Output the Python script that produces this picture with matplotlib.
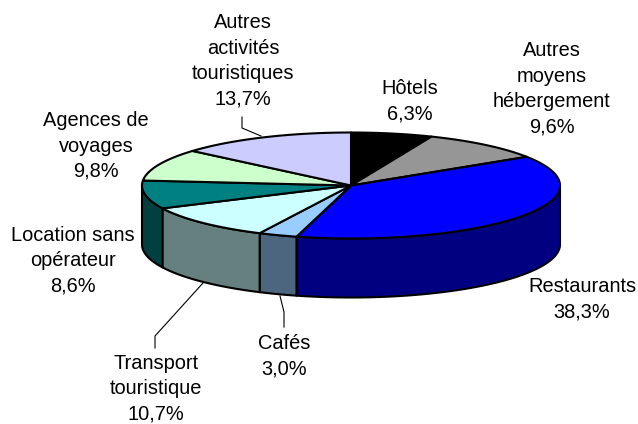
import numpy as np
import matplotlib
matplotlib.use("Agg")
import matplotlib.pyplot as plt
from matplotlib.patches import Polygon

plt.rcParams['font.family'] = ['Liberation Sans']

labels = ["Hôtels\n6,3%", "Autres\nmoyens\nhébergement\n9,6%", "Restaurants\n38,3%", "Cafés\n3,0%",
          "Transport\ntouristique\n10,7%", "Location sans\nopérateur\n8,6%", "Agences de\nvoyages\n9,8%",
          "Autres\nactivités\ntouristiques\n13,7%"]
values = [6.3, 9.6, 38.3, 3.0, 10.7, 8.6, 9.8, 13.7]
top_colors = ["#000000", "#969696", "#0000ff", "#99ccff", "#ccffff", "#008080", "#ccffcc", "#ccccff"]
side_colors = ["#000000", "#4b4b4b", "#000080", "#4d6680", "#668080", "#004040", "#668066", "#666680"]
label_pos = [(410, 101), (552, 89), (582, 299), (284, 356), (156, 389), (73, 261), (96, 146), (243, 61)]
leaders = [[(242, 117), (242, 128), (261, 136)],
           [(155, 348), (155, 336), (203, 283)],
           [(284, 327), (284, 312), (280, 296)]]

cx, cy, rx, ry, depth = 351, 185.5, 209, 53, 59


def edge(a):
    # a in degrees, clockwise from 12 o'clock
    a = np.radians(a)
    return cx + rx * np.sin(a), cy - ry * np.cos(a)


fig = plt.figure(figsize=(6.38, 4.24), dpi=100)
ax = fig.add_axes([0, 0, 1, 1])
ax.set_xlim(0, 638)
ax.set_ylim(424, 0)
ax.axis("off")

bounds = np.cumsum([0] + values) * 3.6

# walls first, only the front half of the pie shows them
for i in range(len(values)):
    a0 = max(bounds[i], 90)
    a1 = min(bounds[i + 1], 270)
    if a1 <= a0:
        continue
    t = np.linspace(a0, a1, 80)
    x, y = edge(t)
    pts = np.column_stack([np.r_[x, x[::-1]], np.r_[y, y[::-1] + depth]])
    ax.add_patch(Polygon(pts, facecolor=side_colors[i], edgecolor="black", lw=1.5, joinstyle="round"))

for i in range(len(values)):
    t = np.linspace(bounds[i], bounds[i + 1], 80)
    x, y = edge(t)
    pts = np.column_stack([np.r_[cx, x], np.r_[cy, y]])
    ax.add_patch(Polygon(pts, facecolor=top_colors[i], edgecolor="black", lw=1.5, joinstyle="round"))

for line in leaders:
    xs, ys = zip(*line)
    ax.plot(xs, ys, color="black", lw=0.8)

for lab, (x, y) in zip(labels, label_pos):
    ax.text(x, y, lab, ha="center", va="center", fontsize=14.4, color="black", linespacing=1.43)

fig.savefig("out.png", dpi=100)
